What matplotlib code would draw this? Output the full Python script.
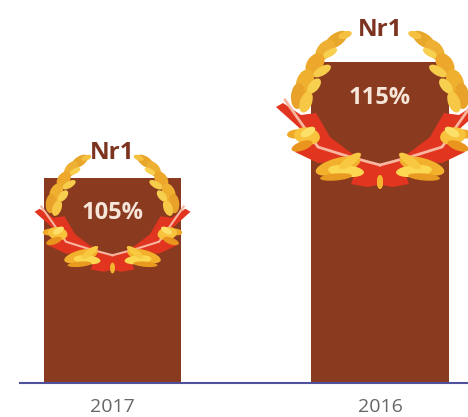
import matplotlib
matplotlib.use('Agg')
from matplotlib import pyplot as plt
from matplotlib.patches import Ellipse, Polygon
from matplotlib.transforms import Affine2D

years = ['2017', '2016']
values = [105, 115]
value_labels = ['105%', '115%']
rank_label = 'Nr1'

BROWN = '#8a3a1f'
# wreath pieces, in px relative to the top centre of the 2016 bar
red_left = [(-104, -45), (-97, -41), (-79, -53), (-64, -51), (-50, -75), (-29, -91), (-12, -100), (0, -103),
            (2, -122), (-12, -125), (-29, -122), (-24, -108), (-45, -100), (-62, -101), (-85, -90), (-75, -71)]
stem_left = [(-95, -38), (-62, -85), (-30, -95), (0, -103)]
# x, y, angle, length, width, colour
leaves_left = [(-44, 22, 35, 26, 13, '#e8a72a'), (-35, 27, 20, 14, 7, '#f5c040'), (-55, 12, 50, 24, 15, '#eeb032'),
               (-50, 9, 30, 16, 7, '#f8d050'), (-65, -2, 55, 24, 16, '#eda82c'), (-58, -9, 30, 20, 9, '#f7cc4a'),
               (-75, -20, 70, 26, 17, '#efb030'), (-66, -24, 50, 18, 10, '#f8d050'), (-82, -34, 85, 26, 14, '#e9a229'),
               (-74, -40, 70, 22, 12, '#f6c845'), (-84, -72, 5, 18, 9, '#f0a828'), (-73, -74, -10, 26, 17, '#f8c23c'),
               (-72, -70, 30, 16, 8, '#fde06a'), (-78, -84, 20, 22, 9, '#e8941f'),
               (-42, -104, 15, 46, 16, '#f2b02c'), (-34, -109, -5, 36, 12, '#fbd752'),
               (-44, -115, 5, 32, 7, '#e89b20'), (-30, -99, 35, 26, 9, '#f8c840')]
leaves_mid = [(0, -120, 90, 14, 6, '#f5b52f')]

fig = plt.figure(figsize=(4.68, 4.17), dpi=100)
ax = fig.add_axes([20 / 468, 1 - 383 / 417, 448 / 468, 383 / 417])
ax.bar(range(len(years)), values, width=0.514, color=BROWN)
ax.set_xlim(-92.5 / 267.5, 355.5 / 267.5)
ax.set_ylim(105 - 205 * 10 / 116, 105 + 178 * 10 / 116)
ax.set_xticks(range(len(years)))
ax.set_xticklabels(years, family='Open Sans', fontsize=14, color='#666666')
ax.tick_params(axis='x', length=0, pad=11)
ax.set_yticks([])
for s in ['top', 'left', 'right']:
    ax.spines[s].set_visible(False)
ax.spines['bottom'].set_color('#51509c')
ax.spines['bottom'].set_linewidth(1.5)


def wreath(i, val, s):
    cx, cy = ax.transData.transform((i, val))
    for side in [-1, 1]:
        tr = Affine2D().scale(-side, 1).scale(s).translate(cx, cy)
        fig.add_artist(Polygon(red_left, closed=True, fc='#e2351f', ec='none', transform=tr, zorder=3))
        xs, ys = zip(*stem_left)
        fig.add_artist(plt.Line2D(xs, ys, color='#f8b5a0', lw=2 * s, transform=tr, zorder=4))
        for x, y, ang, ln, wd, col in leaves_left + leaves_mid:
            fig.add_artist(Ellipse((x, y), ln, wd, angle=ang, fc=col, ec='none', transform=tr, zorder=5))


wreath(0, values[0], 0.75)
wreath(1, values[1], 1.0)

# label offsets in points, from the top centre of each bar
label_dy = [-25, -26]
rank_dy = [18, 23]
for i in range(len(years)):
    ax.annotate(value_labels[i], (i, values[i]), xytext=(0, label_dy[i]), textcoords='offset points',
                ha='center', va='center', family='Open Sans', weight='bold', fontsize=17,
                color='#f6e6da', zorder=10, annotation_clip=False)
    ax.annotate(rank_label, (i, values[i]), xytext=(0, rank_dy[i]), textcoords='offset points',
                ha='center', va='center', family='Open Sans', weight='bold', fontsize=17.5,
                color='#7c3420', zorder=10, annotation_clip=False)

fig.savefig('out.png', dpi=100)
